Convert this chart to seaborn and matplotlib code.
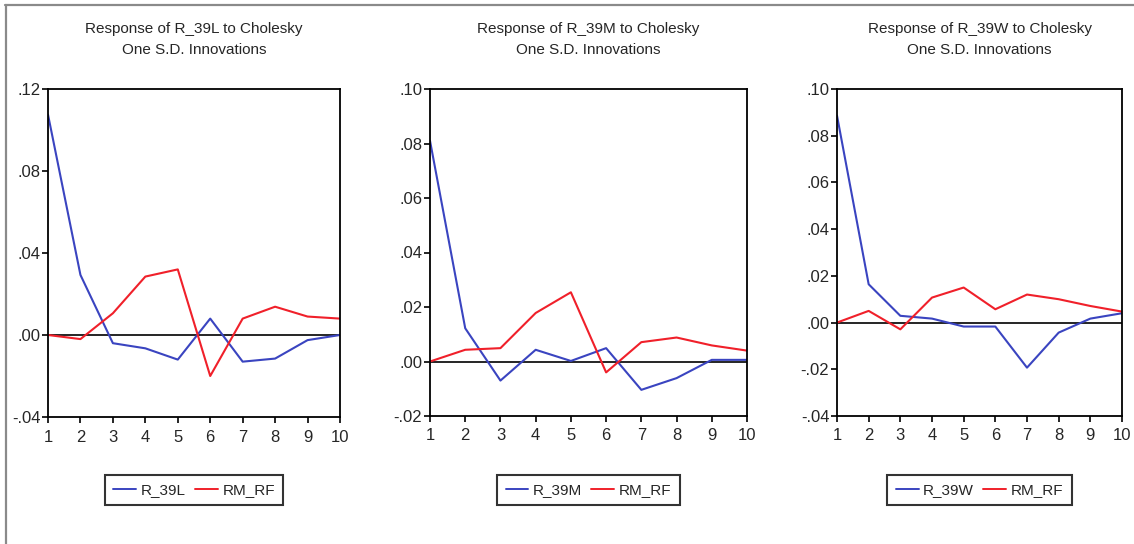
import numpy as np
import pandas as pd
import matplotlib
matplotlib.use("Agg")
import matplotlib.pyplot as plt
from matplotlib.ticker import FixedLocator, FuncFormatter
from matplotlib.lines import Line2D
import seaborn as sns

# Impulse responses to Cholesky one S.D. innovations, periods 1..10
periods = list(range(1, 11))

r39l_own = [0.1075, 0.0293, -0.0040, -0.0065, -0.0120, 0.0080, -0.0130, -0.0115, -0.0025, 0.0000]
r39l_mkt = [0.0000, -0.0020, 0.0106, 0.0285, 0.0320, -0.0200, 0.0080, 0.0138, 0.0090, 0.0080]

r39m_own = [0.0810, 0.0122, -0.0070, 0.0043, 0.0002, 0.0049, -0.0104, -0.0061, 0.0006, 0.0006]
r39m_mkt = [0.0000, 0.0043, 0.0049, 0.0178, 0.0254, -0.0040, 0.0071, 0.0088, 0.0059, 0.0040]

r39w_own = [0.0886, 0.0164, 0.0029, 0.0017, -0.0017, -0.0017, -0.0193, -0.0043, 0.0017, 0.0040]
r39w_mkt = [0.0000, 0.0050, -0.0029, 0.0107, 0.0150, 0.0057, 0.0120, 0.0100, 0.0071, 0.0047]

series_names = ["R_39L", "R_39M", "R_39W"]
shock_name = "RM_RF"
titles = [
    "Response of R_39L to Cholesky\nOne S.D. Innovations",
    "Response of R_39M to Cholesky\nOne S.D. Innovations",
    "Response of R_39W to Cholesky\nOne S.D. Innovations",
]
y_ticks = [
    [-0.04, 0.00, 0.04, 0.08, 0.12],
    [-0.02, 0.00, 0.02, 0.04, 0.06, 0.08, 0.10],
    [-0.04, -0.02, 0.00, 0.02, 0.04, 0.06, 0.08, 0.10],
]

own_responses = [r39l_own, r39m_own, r39w_own]
mkt_responses = [r39l_mkt, r39m_mkt, r39w_mkt]

sns.set_style("ticks")
plt.rcParams["font.family"] = ["Liberation Sans Narrow", "Liberation Sans", "DejaVu Sans"]

BLUE = "#3a44c0"
RED = "#f0202a"

W, H = 1134, 544
fig = plt.figure(figsize=(W / 100, H / 100), dpi=100)

# axes boxes in pixel units: left, right, top, bottom
boxes = [(48, 340, 89, 417), (430, 747, 89, 416), (837, 1122, 89, 416)]


def fmt(v, _):
    s = f"{v:.2f}"
    return s.replace("0.", ".", 1)


for i, (l, r, t, b) in enumerate(boxes):
    ax = fig.add_axes([l / W, 1 - b / H, (r - l) / W, (b - t) / H])
    name = series_names[i]
    df = pd.DataFrame({
        "period": periods * 2,
        "response": own_responses[i] + mkt_responses[i],
        "shock": [name] * len(periods) + [shock_name] * len(periods),
    })
    sns.lineplot(data=df, x="period", y="response", hue="shock",
                 palette={name: BLUE, shock_name: RED}, linewidth=1.5,
                 ax=ax, legend=False)
    ax.axhline(0, color="black", linewidth=1.2, zorder=1)

    ax.set_xlim(1, 10)
    ax.set_ylim(y_ticks[i][0], y_ticks[i][-1])
    ax.xaxis.set_major_locator(FixedLocator(periods))
    ax.yaxis.set_major_locator(FixedLocator(y_ticks[i]))
    ax.yaxis.set_major_formatter(FuncFormatter(fmt))
    ax.set_xlabel("")
    ax.set_ylabel("")
    for sp in ax.spines.values():
        sp.set_visible(True)
        sp.set_color("black")
        sp.set_linewidth(1.3)
    ax.tick_params(axis="both", direction="out", length=4, width=1.2,
                   color="black", labelsize=12, pad=1.5)
    ax.tick_params(axis="x", pad=5)

    cx = (l + r) / 2 / W
    fig.text(cx, 1 - 39.5 / H, titles[i], ha="center", va="center",
             fontsize=11, linespacing=1.6)

    handles = [Line2D([], [], color=BLUE, linewidth=1.4),
               Line2D([], [], color=RED, linewidth=1.4)]
    leg = fig.legend(handles, [name, shock_name], loc="center",
                     bbox_to_anchor=(cx, 1 - 490 / H), ncol=2, fontsize=11,
                     frameon=True, fancybox=False, handlelength=1.5,
                     handletextpad=0.3, columnspacing=0.6, borderpad=0.55,
                     borderaxespad=0)
    leg.get_frame().set_edgecolor("black")
    leg.get_frame().set_linewidth(1.5)

# outer frame lines along the top and left edges
fig.add_artist(Line2D([5 / W, 1], [1 - 5 / H, 1 - 5 / H], color="#8a8a8a",
                      linewidth=1.6, transform=fig.transFigure))
fig.add_artist(Line2D([6 / W, 6 / W], [0, 1 - 5 / H], color="#8a8a8a",
                      linewidth=1.6, transform=fig.transFigure))

fig.savefig("out.png", dpi=100, facecolor="white")
